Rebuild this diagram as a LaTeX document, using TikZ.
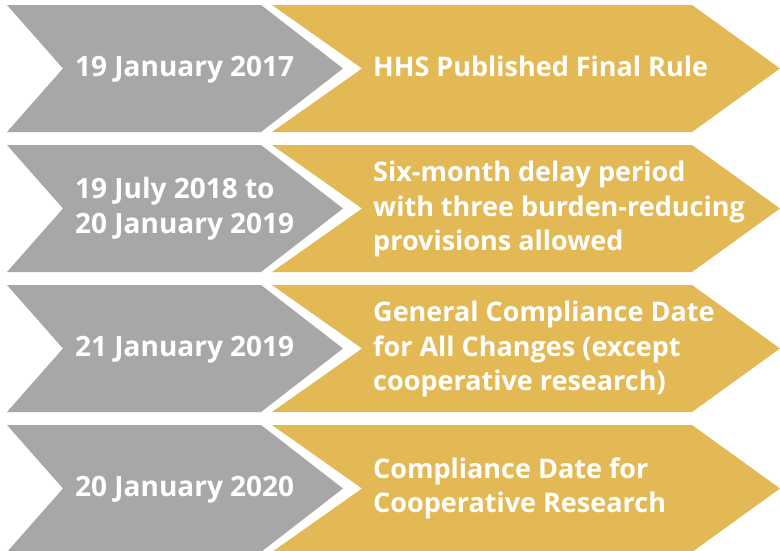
\documentclass[tikz,border=0pt]{standalone}
\usepackage{fontspec}
\setmainfont{Open Sans}
\definecolor{dategrey}{RGB}{167,167,167}
\definecolor{stepgold}{RGB}{226,185,84}
\tikzset{
  greyshape/.style={fill=dategrey},
  goldshape/.style={fill=stepgold},
  txt/.style={anchor=base west, inner sep=0pt, text=white, font=\fontsize{28}{34.5}\selectfont\bfseries},
  gtxt/.style={txt, font=\fontsize{27}{34.5}\selectfont\bfseries}
}
\newcommand{\greychev}[1]{%
  \fill[greyshape] (7,#1) -- (261,#1) -- (343,#1+63.5) -- (261,#1+127) -- (7,#1+127) -- (63,#1+63.5) -- cycle;}
\newcommand{\goldchev}[1]{%
  \fill[goldshape] (272,#1) -- (692,#1) -- (780,#1+63.5) -- (692,#1+127) -- (272,#1+127) -- (362,#1+63.5) -- cycle;}
\begin{document}
\begin{tikzpicture}[x=1pt,y=-1pt]
\useasboundingbox (0,0) rectangle (780,550);
\clip (0,0) rectangle (780,550);
\fill[white] (0,0) rectangle (780,550);
% row 1
\greychev{5}\goldchev{5}
\node[txt] (d1) at (75,76) {19 January 2017};
\node[gtxt] (e1) at (373,76) {HHS Published Final Rule};
% row 2
\greychev{145}\goldchev{145}
\node[txt] (d2a) at (75,198.5) {19 July 2018 to};
\node[txt] (d2b) at (75,233) {20 January 2019};
\node[gtxt] (e2a) at (373,181.5) {Six-month delay period};
\node[gtxt] (e2b) at (373,216) {with three burden-reducing};
\node[gtxt] (e2c) at (373,250.5) {provisions allowed};
% row 3
\greychev{285}\goldchev{285}
\node[txt] (d3) at (75,356) {21 January 2019};
\node[gtxt] (e3a) at (373,321.5) {General Compliance Date};
\node[gtxt] (e3b) at (373,356) {for All Changes (except};
\node[gtxt] (e3c) at (373,390.5) {cooperative research)};
% row 4
\greychev{425}\goldchev{425}
\node[txt] (d4) at (75,496) {20 January 2020};
\node[gtxt] (e4a) at (373,478) {Compliance Date for};
\node[gtxt] (e4b) at (373,512.5) {Cooperative Research};
\end{tikzpicture}
\end{document}
